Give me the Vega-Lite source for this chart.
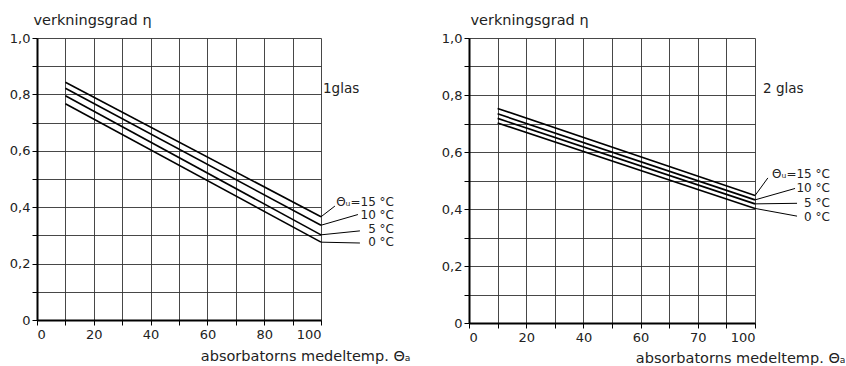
{
  "$schema": "https://vega.github.io/schema/vega-lite/v6.json",
  "bounds": "flush",
  "spacing": 148,
  "padding": {"left": 9, "top": 12, "right": 0, "bottom": 0},
  "background": "white",
  "config": {
    "view": {"stroke": null},
    "font": "DejaVu Sans",
    "axis": {
      "domainColor": "black", "domainWidth": 2,
      "gridColor": "#333", "gridWidth": 0.9, "gridOpacity": 1,
      "tickColor": "black", "tickSize": 5, "tickWidth": 1, "tickCount": 20,
      "labelFont": "DejaVu Sans", "labelFontSize": 13, "labelColor": "#222",
      "titleFont": "DejaVu Sans", "titleFontWeight": "normal", "titleFontSize": 14.5, "titleColor": "#222"
    },
    "text": {"font": "DejaVu Sans", "fontSize": 12, "color": "#222"}
  },
  "datasets": {
    "lines1": [
      {"temp": "15", "x": 10, "eta": 0.843}, {"temp": "15", "x": 100, "eta": 0.366},
      {"temp": "10", "x": 10, "eta": 0.822}, {"temp": "10", "x": 100, "eta": 0.336},
      {"temp": "5", "x": 10, "eta": 0.795}, {"temp": "5", "x": 100, "eta": 0.302},
      {"temp": "0", "x": 10, "eta": 0.767}, {"temp": "0", "x": 100, "eta": 0.276}
    ],
    "labels1": [
      {"temp": "15", "text": "Θᵤ=15 °C", "x0": 100, "y0": 0.366, "x1": 104.9, "y1": 0.404, "lx": 125.7, "ly": 0.42},
      {"temp": "10", "text": "10 °C", "x0": 100, "y0": 0.336, "x1": 113, "y1": 0.374, "lx": 125.7, "ly": 0.372},
      {"temp": "5", "text": "5 °C", "x0": 100, "y0": 0.302, "x1": 113.7, "y1": 0.316, "lx": 125.7, "ly": 0.323},
      {"temp": "0", "text": "0 °C", "x0": 100, "y0": 0.276, "x1": 113.7, "y1": 0.273, "lx": 125.7, "ly": 0.275}
    ],
    "lines2": [
      {"temp": "15", "x": 10, "eta": 0.753}, {"temp": "15", "x": 100, "eta": 0.447},
      {"temp": "10", "x": 10, "eta": 0.734}, {"temp": "10", "x": 100, "eta": 0.432},
      {"temp": "5", "x": 10, "eta": 0.718}, {"temp": "5", "x": 100, "eta": 0.418},
      {"temp": "0", "x": 10, "eta": 0.702}, {"temp": "0", "x": 100, "eta": 0.402}
    ],
    "labels2": [
      {"temp": "15", "text": "Θᵤ=15 °C", "x0": 100, "y0": 0.447, "x1": 104.5, "y1": 0.509, "lx": 126.2, "ly": 0.524},
      {"temp": "10", "text": "10 °C", "x0": 100, "y0": 0.432, "x1": 114, "y1": 0.472, "lx": 126.2, "ly": 0.472},
      {"temp": "5", "text": "5 °C", "x0": 100, "y0": 0.418, "x1": 114.7, "y1": 0.42, "lx": 126.2, "ly": 0.422},
      {"temp": "0", "text": "0 °C", "x0": 100, "y0": 0.402, "x1": 114.7, "y1": 0.375, "lx": 126.2, "ly": 0.373}
    ],
    "glas": [
      {"panel": 1, "text": "1glas", "x": 100.7, "y": 0.82},
      {"panel": 2, "text": "2 glas", "x": 102.8, "y": 0.821}
    ]
  },
  "hconcat": [
    {
      "width": 284, "height": 282,
      "layer": [
        {
          "data": {"name": "lines1"},
          "mark": {"type": "line", "color": "black", "strokeWidth": 1.6},
          "encoding": {
            "x": {"field": "x", "type": "quantitative", "scale": {"domain": [0, 100], "nice": false},
              "axis": {"values": [0, 10, 20, 30, 40, 50, 60, 70, 80, 90, 100], "tickCount": 20,
                "labelExpr": "datum.value % 20 == 0 ? datum.label : ''",
                "labelPadding": 3,
                "title": "absorbatorns  medeltemp. Θₐ", "titleX": 373, "titleY": 36, "titleAlign": "right", "titleBaseline": "middle", "titleAnchor": null}},
            "y": {"field": "eta", "type": "quantitative", "scale": {"domain": [0, 1], "nice": false},
              "axis": {"values": [0, 0.1, 0.2, 0.3, 0.4, 0.5, 0.6, 0.7, 0.8, 0.9, 1.0], "tickCount": 20,
                "labelExpr": "round(datum.value*10) % 2 == 0 ? (datum.value == 0 ? '0' : replace(format(datum.value, '.1f'), '.', ',')) : ''",
                "title": "verkningsgrad η", "titleAngle": 0, "titleAlign": "left", "titleX": -4, "titleY": -14, "titleBaseline": "alphabetic", "titleAnchor": null}},
            "detail": {"field": "temp"}
          }
        },
        {
          "data": {"name": "labels1"},
          "mark": {"type": "rule", "color": "black", "strokeWidth": 1},
          "encoding": {
            "x": {"field": "x0", "type": "quantitative"}, "x2": {"field": "x1"},
            "y": {"field": "y0", "type": "quantitative"}, "y2": {"field": "y1"}
          }
        },
        {
          "data": {"name": "labels1"},
          "mark": {"type": "text", "align": "right", "baseline": "middle"},
          "encoding": {
            "x": {"field": "lx", "type": "quantitative"},
            "y": {"field": "ly", "type": "quantitative"},
            "text": {"field": "text"}
          }
        },
        {
          "data": {"name": "glas"},
          "transform": [{"filter": "datum.panel == 1"}],
          "mark": {"type": "text", "align": "left", "baseline": "middle", "fontSize": 13.5},
          "encoding": {
            "x": {"field": "x", "type": "quantitative"},
            "y": {"field": "y", "type": "quantitative"},
            "text": {"field": "text"}
          }
        }
      ]
    },
    {
      "width": 286, "height": 285,
      "layer": [
        {
          "data": {"name": "lines2"},
          "mark": {"type": "line", "color": "black", "strokeWidth": 1.6},
          "encoding": {
            "x": {"field": "x", "type": "quantitative", "scale": {"domain": [0, 100], "nice": false},
              "axis": {"values": [0, 10, 20, 30, 40, 50, 60, 70, 80, 90, 100], "tickCount": 20,
                "labelExpr": "datum.value == 80 ? '70' : (datum.value % 20 == 0 ? datum.label : '')",
                "labelPadding": 3,
                "title": "absorbatorns  medeltemp. Θₐ", "titleX": 376, "titleY": 35, "titleAlign": "right", "titleBaseline": "middle", "titleAnchor": null}},
            "y": {"field": "eta", "type": "quantitative", "scale": {"domain": [0, 1], "nice": false},
              "axis": {"values": [0, 0.1, 0.2, 0.3, 0.4, 0.5, 0.6, 0.7, 0.8, 0.9, 1.0], "tickCount": 20,
                "labelExpr": "round(datum.value*10) % 2 == 0 ? (datum.value == 0 ? '0' : replace(format(datum.value, '.1f'), '.', ',')) : ''",
                "title": "verkningsgrad  η", "titleAngle": 0, "titleAlign": "left", "titleX": 1, "titleY": -14, "titleBaseline": "alphabetic", "titleAnchor": null}},
            "detail": {"field": "temp"}
          }
        },
        {
          "data": {"name": "labels2"},
          "mark": {"type": "rule", "color": "black", "strokeWidth": 1},
          "encoding": {
            "x": {"field": "x0", "type": "quantitative"}, "x2": {"field": "x1"},
            "y": {"field": "y0", "type": "quantitative"}, "y2": {"field": "y1"}
          }
        },
        {
          "data": {"name": "labels2"},
          "mark": {"type": "text", "align": "right", "baseline": "middle"},
          "encoding": {
            "x": {"field": "lx", "type": "quantitative"},
            "y": {"field": "ly", "type": "quantitative"},
            "text": {"field": "text"}
          }
        },
        {
          "data": {"name": "glas"},
          "transform": [{"filter": "datum.panel == 2"}],
          "mark": {"type": "text", "align": "left", "baseline": "middle", "fontSize": 13.5},
          "encoding": {
            "x": {"field": "x", "type": "quantitative"},
            "y": {"field": "y", "type": "quantitative"},
            "text": {"field": "text"}
          }
        }
      ]
    }
  ]
}
